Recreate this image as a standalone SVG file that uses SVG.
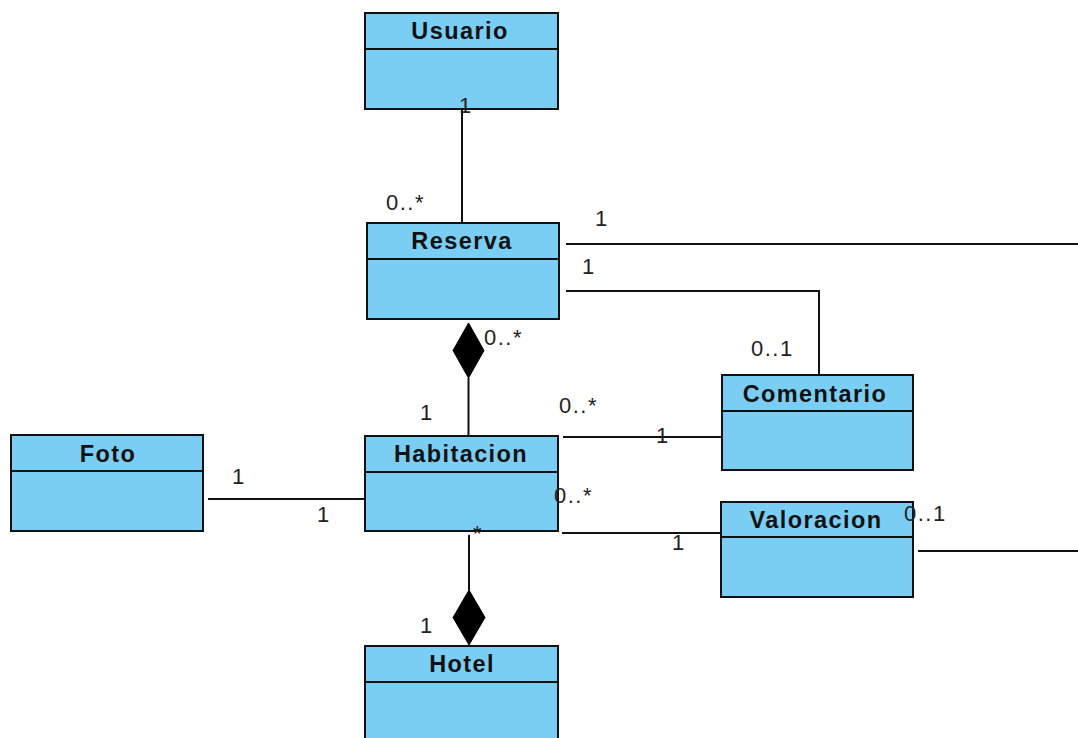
<svg xmlns="http://www.w3.org/2000/svg" width="1078" height="738" viewBox="0 0 1078 738">
<style>
.box{fill:#7acef4;stroke:#111;stroke-width:2}
.sep{stroke:#111;stroke-width:2}
.title{font-family:"Liberation Sans",Arial,sans-serif;font-weight:bold;font-size:23.5px;fill:#111;text-anchor:middle;letter-spacing:1.4px}
.conn{fill:none;stroke:#111;stroke-width:2}
.dia{fill:#000;stroke:#000;stroke-width:1}
.m{font-family:"Liberation Sans",Arial,sans-serif;font-size:22px;fill:#222;letter-spacing:1.5px}
</style>
<rect width="1078" height="738" fill="#fff"/>
<g id="connectors">
<line class="conn" x1="462" y1="109" x2="462" y2="223"/>
<line class="conn" x1="566" y1="244" x2="1078" y2="244"/>
<polyline class="conn" points="566,291 819,291 819,375"/>
<line class="conn" x1="468.5" y1="378" x2="468.5" y2="436"/>
<polygon class="dia" points="468.5,323 484,350.5 468.5,378 453,350.5"/>
<line class="conn" x1="563" y1="437" x2="722" y2="437"/>
<line class="conn" x1="208" y1="499" x2="365" y2="499"/>
<line class="conn" x1="562" y1="533" x2="721" y2="533"/>
<line class="conn" x1="918" y1="551" x2="1078" y2="551"/>
<line class="conn" x1="469" y1="535" x2="469" y2="590"/>
<polygon class="dia" points="469,590 485,617.5 469,645 453,617.5"/>
</g>
<g id="Usuario">
<rect class="box" x="365" y="13" width="193" height="96"/>
<line class="sep" x1="365" y1="49" x2="558" y2="49"/>
<text class="title" x="460" y="39">Usuario</text>
</g>
<g id="Reserva">
<rect class="box" x="367" y="223" width="192" height="96"/>
<line class="sep" x1="367" y1="259" x2="559" y2="259"/>
<text class="title" x="462" y="249">Reserva</text>
</g>
<g id="Comentario">
<rect class="box" x="722" y="375" width="191" height="95"/>
<line class="sep" x1="722" y1="411" x2="913" y2="411"/>
<text class="title" x="815" y="402">Comentario</text>
</g>
<g id="Foto">
<rect class="box" x="11" y="435" width="192" height="96"/>
<line class="sep" x1="11" y1="471" x2="203" y2="471"/>
<text class="title" x="108" y="462">Foto</text>
</g>
<g id="Habitacion">
<rect class="box" x="365" y="436" width="193" height="95"/>
<line class="sep" x1="365" y1="472" x2="558" y2="472"/>
<text class="title" x="461" y="462">Habitacion</text>
</g>
<g id="Valoracion">
<rect class="box" x="721" y="502" width="192" height="95"/>
<line class="sep" x1="721" y1="537" x2="913" y2="537"/>
<text class="title" x="816" y="528">Valoracion</text>
</g>
<g id="Hotel">
<rect class="box" x="365" y="646" width="193" height="100"/>
<line class="sep" x1="365" y1="682" x2="558" y2="682"/>
<text class="title" x="462" y="672">Hotel</text>
</g>
<g id="labels">
<text class="m" x="459" y="113">1</text>
<text class="m" x="386" y="210">0..*</text>
<text class="m" x="595" y="226">1</text>
<text class="m" x="582" y="274">1</text>
<text class="m" x="751" y="356">0..1</text>
<text class="m" x="484" y="345">0..*</text>
<text class="m" x="420" y="420">1</text>
<text class="m" x="559" y="413">0..*</text>
<text class="m" x="656" y="443">1</text>
<text class="m" x="232" y="484">1</text>
<text class="m" x="317" y="522">1</text>
<text class="m" x="554" y="503">0..*</text>
<text class="m" x="473" y="541">*</text>
<text class="m" x="672" y="550">1</text>
<text class="m" x="904" y="521">0..1</text>
<text class="m" x="420" y="633">1</text>
</g>
</svg>
